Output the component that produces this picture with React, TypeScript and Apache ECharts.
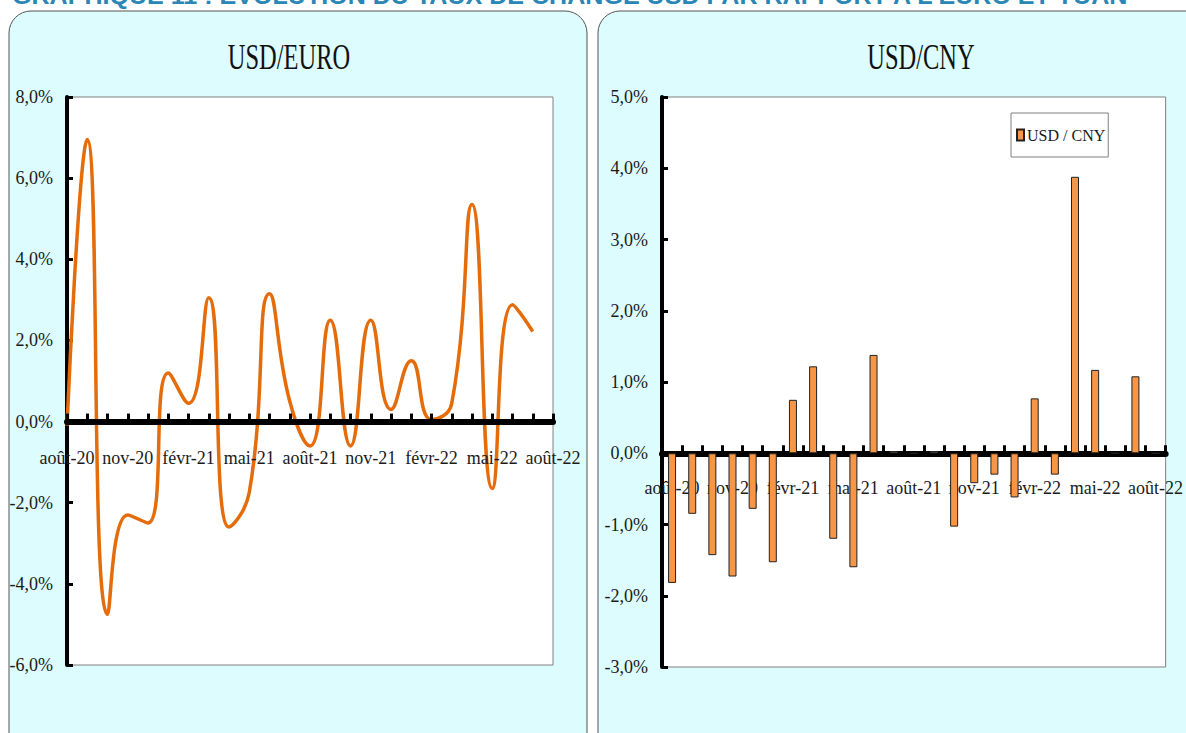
import React, { useEffect, useRef } from "react";
import * as echarts from "echarts";

const months = [
  "août-20", "sept-20", "oct-20", "nov-20", "déc-20", "janv-21", "févr-21", "mars-21", "avr-21",
  "mai-21", "juin-21", "juil-21", "août-21", "sept-21", "oct-21", "nov-21", "déc-21", "janv-22",
  "févr-22", "mars-22", "avr-22", "mai-22", "juin-22", "juil-22", "août-22",
];

// USD/EURO monthly change (%), août-20 .. juil-22
const usdEuro = [
  -0.1, 6.95, -4.75, -2.3, -2.5, 1.2, 0.45, 3.05, -2.6, -1.75, 3.15, 0.5, -0.6,
  2.5, -0.6, 2.5, 0.3, 1.5, 0.05, 0.45, 5.35, -1.65, 2.88, 2.22,
];

// USD/CNY monthly change (%), août-20 .. août-22
const usdCny = [
  -1.82, -0.85, -1.43, -1.73, -0.78, -1.53, 0.75, 1.22, -1.2, -1.6, 1.38, 0.03, 0,
  0.03, -1.03, -0.42, -0.3, -0.62, 0.77, -0.3, 3.88, 1.17, 0, 1.08, 0,
];

const leftTitle = "USD/EURO";
const rightTitle = "USD/CNY";
const legendName = "USD / CNY";
const pageTitle = "GRAPHIQUE 11 : EVOLUTION DU TAUX DE CHANGE USD PAR RAPPORT A L'EURO ET YUAN";

const FONT = "'Liberation Serif', 'Times New Roman', serif";
const pct = (v: number) => v.toFixed(1).replace(".", ",") + "%";

// plot boxes (pixels)
const L = { left: 67, right: 553, top: 97, bottom: 665, min: -6, max: 8, step: 2 };
const R = { left: 662, right: 1169, top: 97, bottom: 667, min: -3, max: 5, step: 1 };
const zeroOffset = (b: typeof L) =>
  -((b.bottom - b.top) * (0 - b.min)) / (b.max - b.min);

export default function App() {
  const ref = useRef<HTMLDivElement>(null);
  useEffect(() => {
    if (!ref.current) return;
    const chart = echarts.init(ref.current, undefined, { renderer: "svg" });
    const labelStyle = { fontFamily: FONT, fontSize: 18, color: "#1a1a1a" };
    const xAxisCommon = (gridIndex: number, boundaryGap: boolean, offset: number, margin: number) => ({
      gridIndex,
      type: "category" as const,
      data: months,
      boundaryGap,
      position: "bottom" as const,
      offset,
      axisLine: { onZero: false, lineStyle: { color: "#000", width: 6 } },
      axisTick: { show: true, interval: 0, inside: true, length: 8, lineStyle: { color: "#000", width: 3 } },
      axisLabel: { interval: 2, margin, ...labelStyle },
      splitLine: { show: false },
      z: 5,
    });
    const yAxisCommon = (gridIndex: number, b: typeof L) => ({
      gridIndex,
      type: "value" as const,
      min: b.min,
      max: b.max,
      interval: b.step,
      axisLine: { show: true, lineStyle: { color: "#000", width: 4 } },
      axisTick: { show: true, inside: true, length: 6, lineStyle: { color: "#000", width: 3 } },
      axisLabel: { margin: 14, formatter: (v: number) => pct(v), ...labelStyle },
      splitLine: { show: false },
    });
    chart.setOption({
      animation: false,
      graphic: [
        {
          type: "rect",
          z: -10,
          shape: { x: 9, y: 11, width: 578, height: 780, r: 22 },
          style: { fill: "#DCFCFD", stroke: "#555", lineWidth: 1 },
        },
        {
          type: "rect",
          z: -10,
          shape: { x: 598, y: 11, width: 620, height: 780, r: 22 },
          style: { fill: "#DCFCFD", stroke: "#555", lineWidth: 1 },
        },
        {
          type: "text",
          z: 10,
          x: 12,
          y: 8,
          scaleX: 1.045,
          style: {
            text: pageTitle,
            fill: "#2A86B4",
            font: "bold 24px 'Liberation Sans', Arial, sans-serif",
            textAlign: "left",
            textVerticalAlign: "bottom",
          },
        },
        {
          type: "text",
          z: 10,
          x: 289,
          y: 57,
          scaleX: 0.68,
          style: {
            text: leftTitle,
            fill: "#111",
            font: `36px ${FONT}`,
            textAlign: "center",
            textVerticalAlign: "middle",
          },
        },
        {
          type: "text",
          z: 10,
          x: 921,
          y: 57,
          scaleX: 0.68,
          style: {
            text: rightTitle,
            fill: "#111",
            font: `36px ${FONT}`,
            textAlign: "center",
            textVerticalAlign: "middle",
          },
        },
      ],
      grid: [
        {
          left: L.left, right: 1186 - L.right, top: L.top, bottom: 733 - L.bottom,
          show: true, backgroundColor: "#fff", borderColor: "#808080", borderWidth: 1,
        },
        {
          left: R.left, right: 1186 - R.right, top: R.top, bottom: 733 - R.bottom,
          show: true, backgroundColor: "#fff", borderColor: "#808080", borderWidth: 1,
        },
      ],
      legend: {
        data: [legendName],
        left: 1011,
        top: 113,
        backgroundColor: "#fff",
        borderColor: "#808080",
        borderWidth: 1,
        borderRadius: 0,
        padding: [14, 3, 14, 5],
        itemWidth: 7,
        itemHeight: 11,
        icon: "rect",
        textStyle: { fontFamily: FONT, fontSize: 16, color: "#1a1a1a", padding: [0, 0, 0, -2] },
      },
      xAxis: [xAxisCommon(0, false, zeroOffset(L), 27), xAxisCommon(1, true, zeroOffset(R), 26)],
      yAxis: [yAxisCommon(0, L), yAxisCommon(1, R)],
      series: [
        {
          name: "USD / EURO",
          type: "line",
          xAxisIndex: 0,
          yAxisIndex: 0,
          data: usdEuro,
          smooth: 0.5,
          showSymbol: false,
          lineStyle: { color: "#E46C0A", width: 3.5 },
          itemStyle: { color: "#E46C0A" },
          z: 3,
        },
        {
          name: legendName,
          type: "bar",
          xAxisIndex: 1,
          yAxisIndex: 1,
          data: usdCny,
          barWidth: 8,
          itemStyle: { color: "#F79646", borderColor: "#222", borderWidth: 1 },
          z: 6,
        },
      ],
    });
    return () => chart.dispose();
  }, []);
  return (
    <div
      ref={ref}
      style={{ position: "absolute", left: 0, top: 0, width: 1186, height: 733, background: "#fff" }}
    />
  );
}
